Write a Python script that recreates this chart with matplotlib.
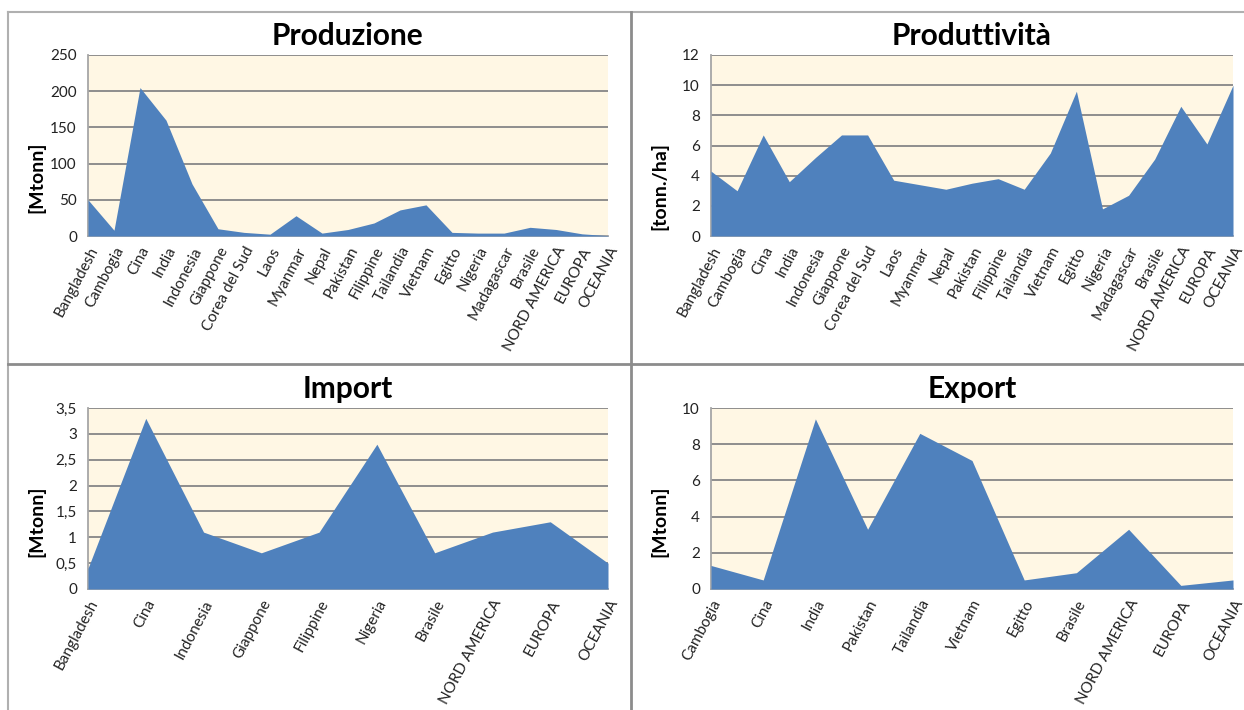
import matplotlib
matplotlib.use("Agg")
import matplotlib.pyplot as plt
from matplotlib.lines import Line2D
from matplotlib.ticker import FuncFormatter

plt.rcParams['font.family'] = ['Lato', 'DejaVu Sans']

# categories and values of the four panels
paesi_prod = ['Bangladesh', 'Cambogia', 'Cina', 'India', 'Indonesia', 'Giappone',
              'Corea del Sud', 'Laos', 'Myanmar', 'Nepal', 'Pakistan', 'Filippine',
              'Tailandia', 'Vietnam', 'Egitto', 'Nigeria', 'Madagascar', 'Brasile',
              'NORD AMERICA', 'EUROPA', 'OCEANIA']
produzione = [50, 8, 205, 160, 72, 10, 5, 2.5, 28, 4, 9, 18, 36, 43, 5, 4, 4, 12, 9, 3, 0.5]
produttivita = [4.3, 3.0, 6.7, 3.6, 5.2, 6.7, 6.7, 3.7, 3.4, 3.1, 3.5, 3.8, 3.1, 5.5,
                9.6, 1.8, 2.7, 5.1, 8.6, 6.1, 10.0]

paesi_import = ['Bangladesh', 'Cina', 'Indonesia', 'Giappone', 'Filippine', 'Nigeria',
                'Brasile', 'NORD AMERICA', 'EUROPA', 'OCEANIA']
importazioni = [0.4, 3.3, 1.1, 0.7, 1.1, 2.8, 0.7, 1.1, 1.3, 0.5]

paesi_export = ['Cambogia', 'Cina', 'India', 'Pakistan', 'Tailandia', 'Vietnam', 'Egitto',
                'Brasile', 'NORD AMERICA', 'EUROPA', 'OCEANIA']
esportazioni = [1.3, 0.5, 9.4, 3.3, 8.6, 7.1, 0.5, 0.9, 3.3, 0.2, 0.5]

W, H = 1244, 710
BLUE = '#4f81bd'
CREAM = '#fff7e4'
GRID = '#868686'

fig = plt.figure(figsize=(W / 100, H / 100), dpi=100)


def px_axes(left, right, top, bottom):
    return fig.add_axes([left / W, 1 - bottom / H, (right - left) / W, (bottom - top) / H])


def comma(v, pos):
    return ('%g' % v).replace('.', ',')


def area_panel(box, names, values, ymax, ystep, title, ylabel, title_y, label_xy):
    ax = px_axes(*box)
    x = list(range(len(names)))
    ax.set_facecolor(CREAM)
    ax.fill_between(x, 0, values, color=BLUE, lw=0, zorder=3)
    ax.set_xlim(0, len(names) - 1)
    ax.set_ylim(0, ymax)
    ticks = [i * ystep for i in range(int(round(ymax / ystep)) + 1)]
    ax.set_yticks(ticks)
    ax.yaxis.set_major_formatter(FuncFormatter(comma))
    ax.grid(axis='y', color=GRID, lw=1.3, zorder=1)
    ax.set_axisbelow(True)
    ax.set_xticks(x)
    ax.set_xticklabels(names, rotation=62, ha='right', rotation_mode='anchor', fontsize=11)
    ax.tick_params(length=0, labelsize=11, colors='#222222')
    ax.tick_params(axis='x', pad=6)
    ax.tick_params(axis='y', pad=8)
    for side in ['top', 'right']:
        ax.spines[side].set_visible(False)
    ax.spines['left'].set_color('#a6a6a6')
    ax.spines['bottom'].set_color('#a6a6a6')
    ax.spines['left'].set_linewidth(1.3)
    ax.spines['bottom'].set_linewidth(1.3)
    cx = (box[0] + box[1]) / 2 / W
    fig.text(cx, 1 - title_y / H, title, ha='center', va='center',
             fontsize=21.5, fontweight='bold')
    fig.text(label_xy[0] / W, 1 - label_xy[1] / H, ylabel, rotation=90,
             ha='center', va='center', fontsize=14, fontweight='bold')
    return ax


area_panel((88, 608, 55, 236), paesi_prod, produzione, 250, 50,
           'Produzione', '[Mtonn]', 36, (36, 177))
area_panel((711, 1233, 55, 236), paesi_prod, produttivita, 12, 2,
           'Produttività', '[tonn./ha]', 36, (659, 186))
area_panel((88, 608, 408, 589), paesi_import, importazioni, 3.5, 0.5,
           'Import', '[Mtonn]', 389, (36, 521))
area_panel((711, 1233, 408, 589), paesi_export, esportazioni, 10, 2,
           'Export', '[Mtonn]', 389, (659, 521))

# outer frame and dividers between the panels
def fig_line(x0, y0, x1, y1, color, lw):
    fig.add_artist(Line2D([x0 / W, x1 / W], [1 - y0 / H, 1 - y1 / H],
                          color=color, lw=lw, transform=fig.transFigure))


fig_line(8, 12, W, 12, '#b0b0b0', 1.5)
fig_line(8, 12, 8, H, '#b0b0b0', 1.5)
fig_line(631, 12, 631, H, '#8c8c8c', 2)
fig_line(8, 364, W, 364, '#8c8c8c', 2)

fig.savefig('out.png', dpi=100, facecolor='white')
